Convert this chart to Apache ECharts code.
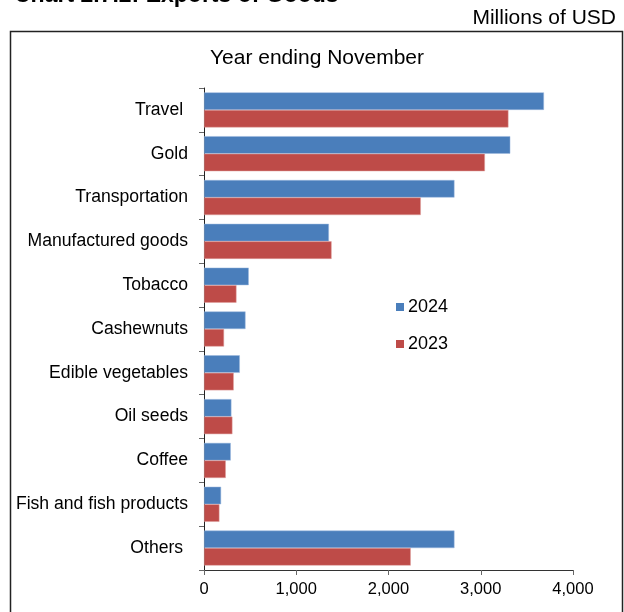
<!DOCTYPE html>
<html>
<head>
<meta charset="utf-8">
<script src="https://cdn.jsdelivr.net/npm/echarts@6/dist/echarts.min.js"></script>
<style>
  html, body { margin: 0; padding: 0; background: #fff; }
  #chart { width: 624px; height: 612px; }
</style>
</head>
<body>
<div id="chart"></div>
<script>
// Exports of goods by category, year ending November (millions of USD)
const categories = [
  'Travel ', 'Gold', 'Transportation', 'Manufactured goods', 'Tobacco',
  'Cashewnuts', 'Edible vegetables', 'Oil seeds', 'Coffee',
  'Fish and fish products', 'Others '
];
const exports2024 = [3685, 3320, 2715, 1354, 485, 450, 388, 297, 290, 185, 2715];
const exports2023 = [3300, 3045, 2350, 1383, 352, 217, 322, 308, 236, 167, 2241];
const seriesNames = ['2024', '2023'];
const xTicks = [0, 1000, 2000, 3000, 4000];

const FONT = '"Liberation Sans", Arial, Helvetica, sans-serif';
const BLUE = '#4a7ebb';
const RED = '#be4b48';

const chart = echarts.init(document.getElementById('chart'), null, { renderer: 'canvas' });

chart.setOption({
  animation: false,
  backgroundColor: '#ffffff',
  textStyle: { fontFamily: FONT, color: '#000' },
  graphic: [
    {
      type: 'text', left: 14, top: -16,
      style: { text: 'Chart 2.7.2: Exports of Goods', font: 'bold 23px ' + FONT, fill: '#000' }
    },
    {
      type: 'text', right: 8, top: 8,
      style: { text: 'Millions of USD', font: '21px ' + FONT, fill: '#000' }
    },
    {
      type: 'rect',
      shape: { x: 10.5, y: 31.5, width: 612, height: 600 },
      style: { fill: 'none', stroke: '#222', lineWidth: 1.5 }
    },
    {
      type: 'text', x: 317, y: 58,
      style: {
        text: 'Year ending November', font: '21px ' + FONT, fill: '#000',
        align: 'center', verticalAlign: 'middle'
      }
    }
  ],
  legend: {
    orient: 'vertical',
    left: 391,
    top: 293,
    itemWidth: 8,
    itemHeight: 8,
    itemGap: 19,
    icon: 'rect',
    data: seriesNames,
    itemStyle: { borderWidth: 0 },
    textStyle: { fontSize: 18, fontFamily: FONT, color: '#000', padding: [0, 0, 0, -1] }
  },
  grid: {
    left: 204, right: 51, top: 88, bottom: 42,
    outerBoundsMode: 'none'
  },
  xAxis: {
    type: 'value',
    min: xTicks[0],
    max: xTicks[xTicks.length - 1],
    interval: 1000,
    axisLine: { show: true, lineStyle: { color: '#333', width: 1 } },
    axisTick: { show: true, length: 5, lineStyle: { color: '#666' } },
    splitLine: { show: false },
    axisLabel: {
      fontSize: 16.5, color: '#000', margin: 11, fontFamily: FONT,
      formatter: v => v.toLocaleString('en-US')
    }
  },
  yAxis: {
    type: 'category',
    data: categories,
    inverse: true,
    axisLine: { show: true, lineStyle: { color: '#222', width: 1 } },
    axisTick: { show: true, length: 5, lineStyle: { color: '#666' } },
    axisLabel: { fontSize: 17.6, color: '#000', margin: 16, fontFamily: FONT }
  },
  series: [
    {
      name: seriesNames[0],
      type: 'bar',
      data: exports2024,
      barGap: '0%',
      barCategoryGap: '20%',
      itemStyle: { color: BLUE, borderColor: '#9db8de', borderWidth: 0.5 }
    },
    {
      name: seriesNames[1],
      type: 'bar',
      data: exports2023,
      barGap: '0%',
      barCategoryGap: '20%',
      itemStyle: { color: RED, borderColor: '#dfa09e', borderWidth: 0.5 }
    }
  ]
});
</script>
</body>
</html>
